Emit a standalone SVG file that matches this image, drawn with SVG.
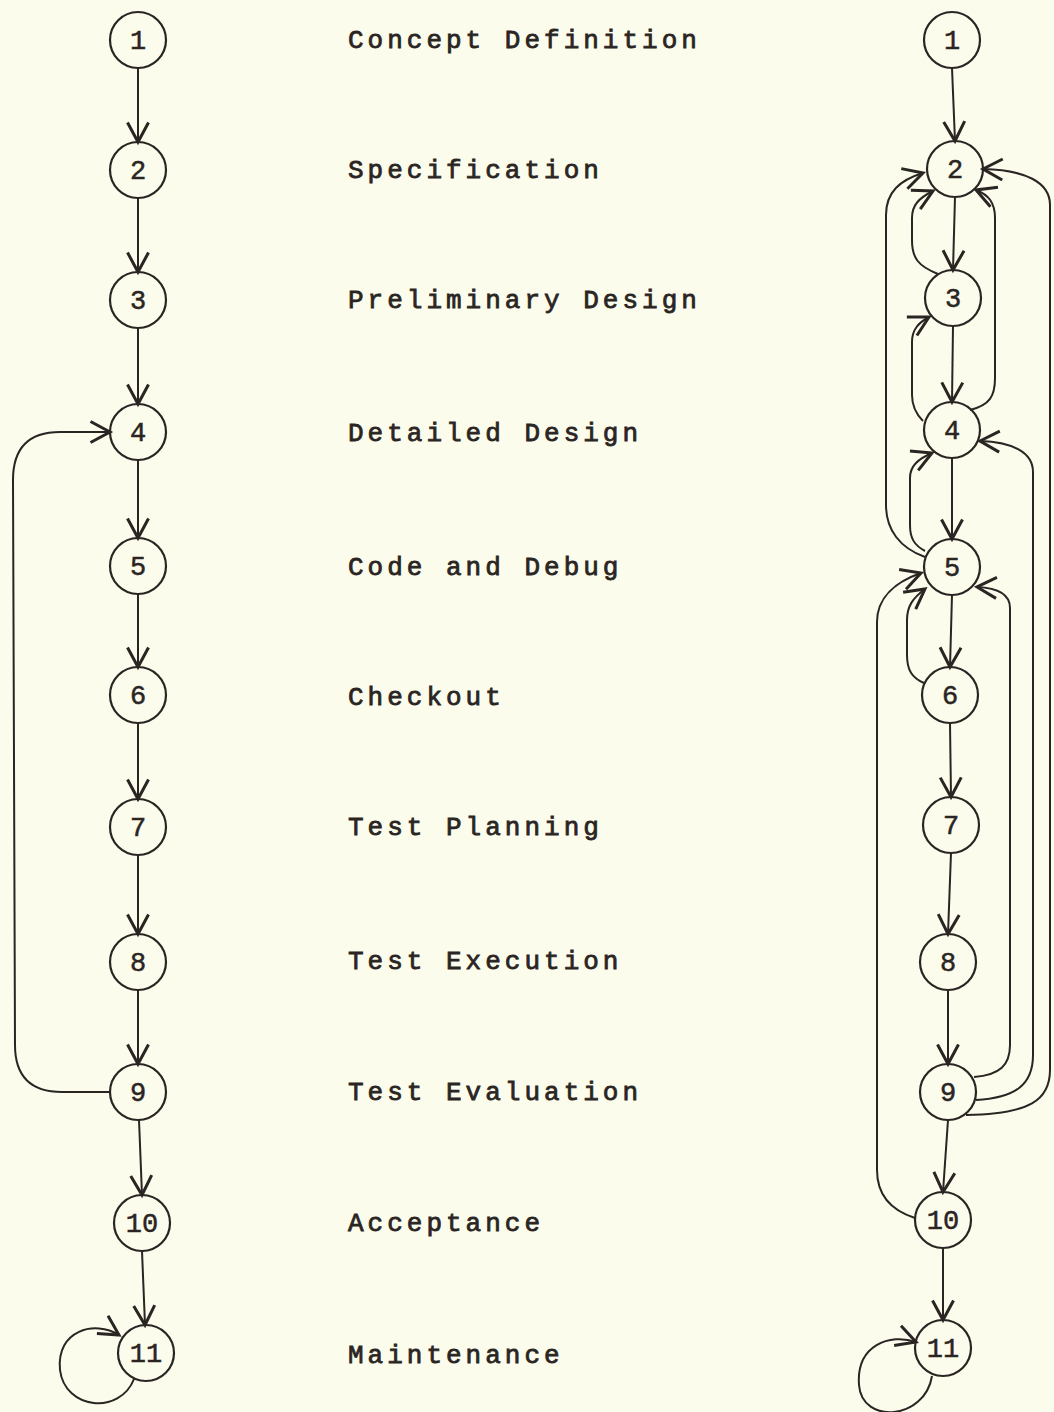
<svg xmlns="http://www.w3.org/2000/svg" width="1054" height="1412" viewBox="0 0 1054 1412">
<defs>
<marker id="arr" markerUnits="userSpaceOnUse" markerWidth="30" markerHeight="30" refX="0" refY="0" viewBox="-16 -10 20 20" orient="auto" overflow="visible">
<path d="M -13 -7 L 0 0 L -13 7" fill="none" stroke="#2a2523" stroke-width="2"/>
</marker>
<style>
.n circle{fill:none;stroke:#2a2523;stroke-width:2.2}
.n text{font-family:"Liberation Mono","DejaVu Sans Mono",monospace;font-size:27px;fill:#2a2523;stroke:#2a2523;stroke-width:0.5;text-anchor:middle}
.e path{fill:none;stroke:#2a2523;stroke-width:2;marker-end:url(#arr)}
.lbl{font-family:"Liberation Mono","DejaVu Sans Mono",monospace;font-size:26px;fill:#2a2523;stroke:#2a2523;stroke-width:0.8;letter-spacing:4px}
</style>
</defs>
<rect width="1054" height="1412" fill="#fcfcec"/>

<g id="labels">
<text class="lbl" x="348" y="48">Concept Definition</text>
<text class="lbl" x="348" y="178">Specification</text>
<text class="lbl" x="348" y="308">Preliminary Design</text>
<text class="lbl" x="348" y="441">Detailed Design</text>
<text class="lbl" x="348" y="575">Code and Debug</text>
<text class="lbl" x="348" y="705">Checkout</text>
<text class="lbl" x="348" y="835">Test Planning</text>
<text class="lbl" x="348" y="969">Test Execution</text>
<text class="lbl" x="348" y="1100">Test Evaluation</text>
<text class="lbl" x="348" y="1231">Acceptance</text>
<text class="lbl" x="348" y="1363">Maintenance</text>
</g>

<g id="left-nodes">
<g id="L1" class="n"><circle cx="138" cy="40" r="28"/><text x="138" y="49">1</text></g>
<g id="L2" class="n"><circle cx="138" cy="170" r="28"/><text x="138" y="179">2</text></g>
<g id="L3" class="n"><circle cx="138" cy="300" r="28"/><text x="138" y="309">3</text></g>
<g id="L4" class="n"><circle cx="138" cy="432" r="28"/><text x="138" y="441">4</text></g>
<g id="L5" class="n"><circle cx="138" cy="566" r="28"/><text x="138" y="575">5</text></g>
<g id="L6" class="n"><circle cx="138" cy="695" r="28"/><text x="138" y="704">6</text></g>
<g id="L7" class="n"><circle cx="138" cy="827" r="28"/><text x="138" y="836">7</text></g>
<g id="L8" class="n"><circle cx="138" cy="962" r="28"/><text x="138" y="971">8</text></g>
<g id="L9" class="n"><circle cx="138" cy="1092" r="28"/><text x="138" y="1101">9</text></g>
<g id="L10" class="n"><circle cx="142" cy="1223" r="28"/><text x="142" y="1232">10</text></g>
<g id="L11" class="n"><circle cx="146" cy="1353" r="28"/><text x="146" y="1362">11</text></g>
</g>

<g id="right-nodes">
<g id="R1" class="n"><circle cx="952" cy="40" r="28"/><text x="952" y="49">1</text></g>
<g id="R2" class="n"><circle cx="955" cy="169" r="28"/><text x="955" y="178">2</text></g>
<g id="R3" class="n"><circle cx="953" cy="298" r="28"/><text x="953" y="307">3</text></g>
<g id="R4" class="n"><circle cx="952" cy="430" r="28"/><text x="952" y="439">4</text></g>
<g id="R5" class="n"><circle cx="952" cy="567" r="28"/><text x="952" y="576">5</text></g>
<g id="R6" class="n"><circle cx="950" cy="695" r="28"/><text x="950" y="704">6</text></g>
<g id="R7" class="n"><circle cx="951" cy="825" r="28"/><text x="951" y="834">7</text></g>
<g id="R8" class="n"><circle cx="948" cy="962" r="28"/><text x="948" y="971">8</text></g>
<g id="R9" class="n"><circle cx="948" cy="1092" r="28"/><text x="948" y="1101">9</text></g>
<g id="R10" class="n"><circle cx="943" cy="1220" r="28"/><text x="943" y="1229">10</text></g>
<g id="R11" class="n"><circle cx="943" cy="1348" r="28"/><text x="943" y="1357">11</text></g>
</g>

<g id="connectors" class="e">
<path d="M138 68 L138 142"/>
<path d="M138 198 L138 272"/>
<path d="M138 328 L138 404"/>
<path d="M138 460 L138 538"/>
<path d="M138 594 L138 667"/>
<path d="M138 723 L138 799"/>
<path d="M138 855 L138 934"/>
<path d="M138 990 L138 1064"/>
<path d="M139 1120 L142 1195"/>
<path d="M142 1251 L145 1325"/>
<path d="M110 1092 L62 1092 Q15 1092 15 1045 L13 480 Q13 432 60 432 L110 432"/>
<path d="M134 1379 C120 1415 65 1410 60 1370 C56 1330 95 1320 119 1335"/>

<path d="M952 68 L955 141"/>
<path d="M955 197 L953 270"/>
<path d="M953 326 L952 402"/>
<path d="M952 458 L952 539"/>
<path d="M952 595 L950 667"/>
<path d="M950 723 L951 797"/>
<path d="M951 853 L948 934"/>
<path d="M948 990 L948 1064"/>
<path d="M948 1120 L943 1192"/>
<path d="M943 1248 L943 1320"/>
<path d="M938 274 C918 266 912 258 912 240 L912 218 C912 205 919 198 933 191"/>
<path d="M970 410 C990 405 995 396 995 378 L995 218 C995 203 989 195 976 190"/>
<path d="M923 421 C915 413 912 405 912 395 L912 342 C912 330 918 323 929 317"/>
<path d="M925 551 C914 545 910 538 910 525 L910 478 C910 466 918 459 932 453"/>
<path d="M925 557 C900 548 886 530 886 505 L886 215 C886 192 900 180 923 173"/>
<path d="M924 683 C912 678 907 670 907 655 L907 620 C907 606 913 598 925 589"/>
<path d="M915 1218 C890 1210 877 1195 877 1170 L877 622 C877 598 895 582 921 573"/>
<path d="M974 1077 C1000 1075 1010 1065 1010 1045 L1010 608 C1010 595 1000 588 977 587"/>
<path d="M976 1100 C1015 1098 1033 1085 1033 1055 L1033 472 C1033 452 1012 442 980 441"/>
<path d="M966 1115 C1030 1114 1050 1100 1050 1070 L1050 205 C1050 182 1025 170 983 169"/>
<path d="M932 1376 C925 1420 862 1425 859 1385 C856 1345 890 1333 916 1342"/>
</g>
</svg>
